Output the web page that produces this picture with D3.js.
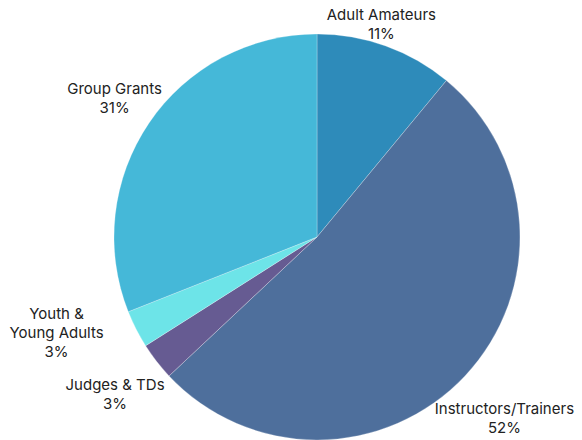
<!DOCTYPE html>
<html><head><meta charset="utf-8">
<script src="https://cdn.jsdelivr.net/npm/d3@7"></script>
<style>html,body{margin:0;padding:0;background:#fff;}svg{display:block;}</style>
</head><body>
<svg id="chart" width="582" height="440"></svg>
<script>
const categories = ["Adult Amateurs", "Instructors/Trainers", "Judges & TDs", "Youth & Young Adults", "Group Grants"];
const values = [11, 52, 3, 3, 31];
const labelLines = [["Adult Amateurs"], ["Instructors/Trainers"], ["Judges & TDs"], ["Youth &", "Young Adults"], ["Group Grants"]];
const colors = ["#2e8bba", "#4e6f9c", "#665b92", "#6de4e8", "#45b8d8"];

const svg = d3.select("#chart");
const cx = 317, cy = 237, R = 203;
const g = svg.append("g").attr("transform", `translate(${cx},${cy})`);
const pie = d3.pie().sort(null).value(d => d)(values);
const arc = d3.arc().innerRadius(0).outerRadius(R);
g.selectAll("path").data(pie).join("path")
  .attr("d", arc).attr("fill", (d, i) => colors[i])
  .attr("stroke", "rgba(255,255,255,0.5)").attr("stroke-width", 0.5);

const fmt = d3.format(".0%");
const total = d3.sum(values);
const lineH = 19, fontSize = 15, gap = 14;
// layout nudges to reproduce the reference placement
const nudge = [[-16, 11], [9, 15], [-6, 6], [-20, -26], [5, 3]];
pie.forEach((d, i) => {
  const lines = labelLines[i].concat([fmt(values[i] / total)]);
  const t = g.append("text").attr("text-anchor", "middle")
    .attr("font-family", "Inter, 'Noto Sans', sans-serif").attr("font-size", fontSize).attr("fill", "#222");
  lines.forEach((l, j) => t.append("tspan").attr("x", 0).attr("dy", j === 0 ? 0 : lineH).text(l));
  const bb = t.node().getBBox();
  const w = bb.width / 2, h = lines.length * lineH / 2;
  const a = (d.startAngle + d.endAngle) / 2;
  const sx = Math.sin(a), sy = -Math.cos(a);
  const ext = Math.min(Math.abs(sx) > 1e-6 ? w / Math.abs(sx) : Infinity, Math.abs(sy) > 1e-6 ? h / Math.abs(sy) : Infinity);
  const dist = R + gap + ext;
  const px = sx * dist + nudge[i][0], py = sy * dist + nudge[i][1];
  const top = py - h;
  t.attr("transform", `translate(${px},${top + lineH * 0.72})`);
});
</script>
</body></html>
